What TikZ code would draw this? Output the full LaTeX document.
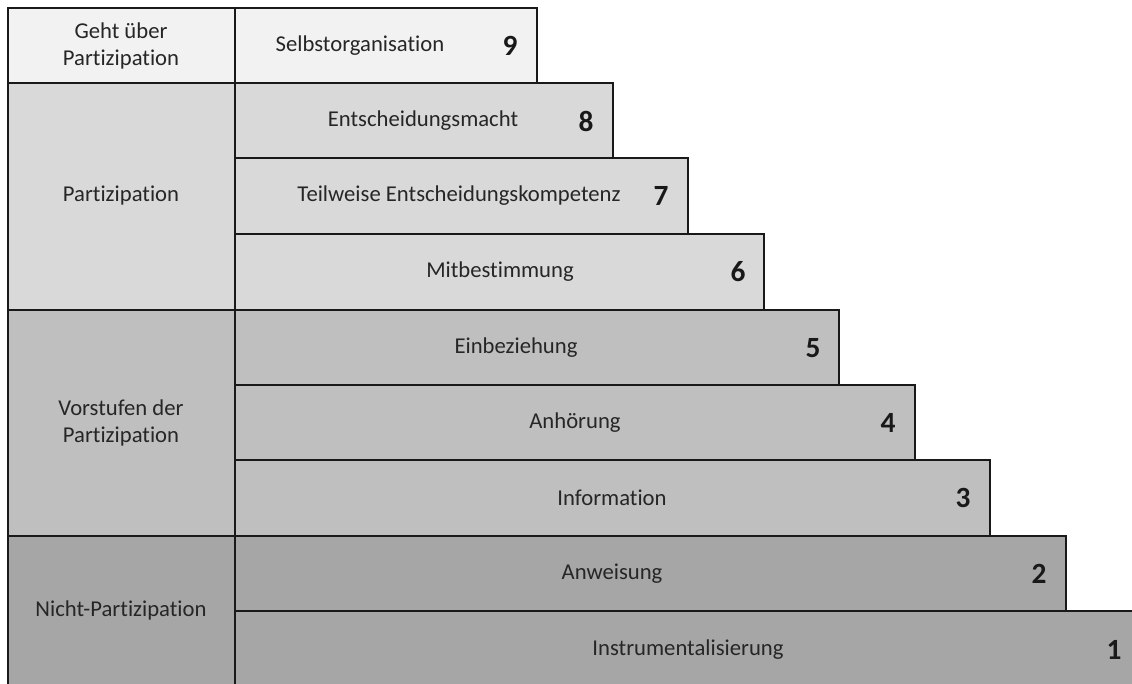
\documentclass[tikz,border=0pt]{standalone}
\usepackage{fontspec}
\setmainfont[Ligatures={NoCommon,NoRequired,NoContextual}]{Carlito}
\definecolor{c1}{HTML}{F2F2F2}
\definecolor{c2}{HTML}{D9D9D9}
\definecolor{c3}{HTML}{BFBFBF}
\definecolor{c4}{HTML}{A6A6A6}
\tikzset{
  boxline/.style={draw=black!90, line width=1.2pt},
  lbl/.style={font=\fontsize{17}{20}\selectfont, text=black!85, inner sep=0pt, align=center},
  num/.style={font=\fontsize{22}{26}\selectfont\bfseries, text=black!90, inner sep=0pt}
}
\begin{document}
\begin{tikzpicture}[x=0.75pt,y=-0.75pt]
\useasboundingbox (0,0) rectangle (1132,684);
\clip (0,0) rectangle (1132,684);
% right steps
\foreach \r/\top/\bot/\right/\col in {9/8/83/537/c1, 8/83/158/613/c2, 7/158/234/688/c2, 6/234/310/764/c2, 5/310/385/839/c3, 4/385/460/915/c3, 3/460/536/990/c3, 2/536/611/1066/c4, 1/611/700/1145/c4}{
  \path[boxline, fill=\col] (235,\top) rectangle (\right,\bot);
}
% left groups
\path[boxline, fill=c1] (8,8) rectangle (235,83);
\path[boxline, fill=c2] (8,83) rectangle (235,310);
\path[boxline, fill=c3] (8,310) rectangle (235,536);
\path[boxline, fill=c4] (8,536) rectangle (235,700);
% group labels
\node[lbl] (g1) at (121,46) {Geht über\\Partizipation};
\node[lbl] (g2) at (121,196) {Partizipation};
\node[lbl] (g3) at (121,423) {Vorstufen der\\Partizipation};
\node[lbl] (g4) at (121,610) {Nicht-Partizipation};
% step labels
\node[lbl] (s9) at (360,46) {Selbstorganisation};
\node[lbl] (s8) at (423,121) {Entscheidungsmacht};
\node[lbl] (s7) at (459,196) {Teilweise Entscheidungskompetenz};
\node[lbl] (s6) at (500,272) {Mitbestimmung};
\node[lbl] (s5) at (516,348) {Einbeziehung};
\node[lbl] (s4) at (575,423) {Anhörung};
\node[lbl] (s3) at (612,498) {Information};
\node[lbl] (s2) at (612,574) {Anweisung};
\node[lbl] (s1) at (688,650) {Instrumentalisierung};
% numbers
\node[num] (n9) at (510,46) {9};
\node[num] (n8) at (586,121) {8};
\node[num] (n7) at (661,196) {7};
\node[num] (n6) at (738,272) {6};
\node[num] (n5) at (813,348) {5};
\node[num] (n4) at (888,423) {4};
\node[num] (n3) at (963,498) {3};
\node[num] (n2) at (1039,574) {2};
\node[num] (n1) at (1114,650) {1};
\end{tikzpicture}
\end{document}
